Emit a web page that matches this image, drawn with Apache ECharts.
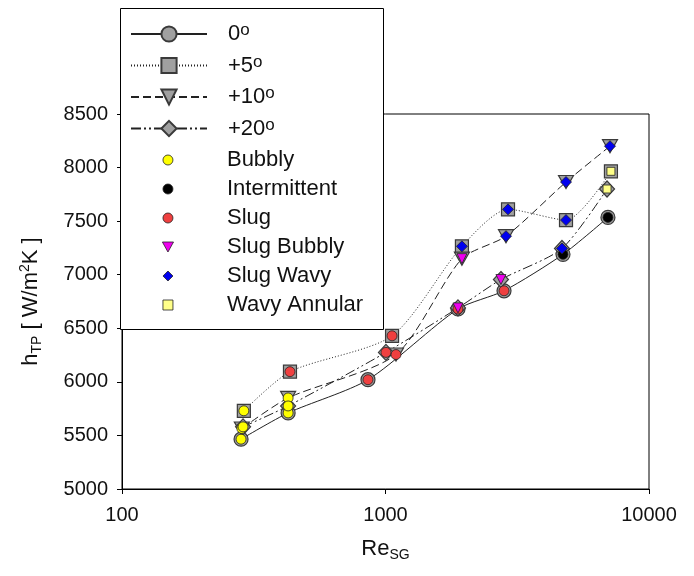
<!DOCTYPE html>
<html>
<head>
<meta charset="utf-8">
<script src="https://cdn.jsdelivr.net/npm/echarts@6/dist/echarts.min.js"></script>
<style>
html,body{margin:0;padding:0;background:#fff;}
#chart{width:694px;height:576px;}
</style>
</head>
<body>
<div id="chart"></div>
<script>
// ---- data ----
var angleNames = ['0', '+5', '+10', '+20'];
var re0  = [283, 427, 858, 1884, 2817, 4716, 6985];
var h0   = [5465, 5710, 6020, 6680, 6850, 7190, 7535];
var rg0  = ['Bubbly', 'Bubbly', 'Slug', 'Slug', 'Slug', 'Intermittent', 'Intermittent'];
var re5  = [290, 434, 1059, 1950, 2917, 4842, 7170];
var h5   = [5730, 6095, 6430, 7265, 7610, 7510, 7965];
var rg5  = ['Bubbly', 'Slug', 'Slug', 'Slug Wavy', 'Slug Wavy', 'Slug Wavy', 'Wavy Annular'];
var re10 = [285, 427, 1096, 1950, 2866, 4842, 7112];
var h10  = [5565, 5850, 6255, 7150, 7360, 7865, 8200];
var rg10 = ['Bubbly', 'Bubbly', 'Slug', 'Slug Bubbly', 'Slug Wavy', 'Slug Wavy', 'Slug Wavy'];
var re20 = [288, 427, 1004, 1884, 2742, 4675, 6930];
var h20  = [5580, 5775, 6275, 6690, 6955, 7245, 7800];
var rg20 = ['Bubbly', 'Bubbly', 'Slug', 'Slug Bubbly', 'Slug Bubbly', 'Slug Wavy', 'Wavy Annular'];
var regimes = ['Bubbly', 'Intermittent', 'Slug', 'Slug Bubbly', 'Slug Wavy', 'Wavy Annular'];
var xTicks = [100, 1000, 10000];
var yTicks = [5000, 5500, 6000, 6500, 7000, 7500, 8000, 8500];

// ---- styles ----
var angleRe = [re0, re5, re10, re20];
var angleH = [h0, h5, h10, h20];
var angleRg = [rg0, rg5, rg10, rg20];
var angleSymbol = ['circle', 'rect', 'triangle', 'diamond'];
var angleSymbolSize = [14, 13, [15, 13], [15, 16]];
var angleRotate = [0, 0, 180, 0];
var angleLine = ['solid', [1, 2], [8, 4], [10, 3, 2, 3, 2, 3]];
var regStyle = {
  'Bubbly':       {symbol: 'circle',   size: 10, color: '#ffff00', rot: 0,   icon: 'circle'},
  'Intermittent': {symbol: 'circle',   size: 10, color: '#000000', rot: 0,   icon: 'circle'},
  'Slug':         {symbol: 'circle',   size: 10, color: '#ef4040', rot: 0,   icon: 'circle'},
  'Slug Bubbly':  {symbol: 'triangle', size: 10, color: '#ee00ee', rot: 180, icon: 'path://M0,0L10,0L5,9Z'},
  'Slug Wavy':    {symbol: 'diamond',  size: 11, color: '#0000ee', rot: 0,   icon: 'path://M5,0L10,5L5,10L0,5Z'},
  'Wavy Annular': {symbol: 'rect',     size: 8,  color: '#ffff88', rot: 0,   icon: 'path://M0,0L8,0L8,8L0,8Z'}
};

var series = [];
angleNames.forEach(function (nm, i) {
  series.push({
    name: nm,
    type: 'line',
    smooth: 0.25,
    data: angleRe[i].map(function (x, k) { return [x, angleH[i][k]]; }),
    symbol: angleSymbol[i],
    symbolSize: angleSymbolSize[i],
    symbolRotate: angleRotate[i],
    showAllSymbol: true,
    lineStyle: {color: '#222', width: 1, type: angleLine[i]},
    itemStyle: {color: '#a0a0a0', borderColor: '#3a3a3a', borderWidth: 1.2},
    z: 2,
    animation: false
  });
});
var legendRegData = [];
regimes.forEach(function (rg) {
  var pts = [];
  for (var i = 0; i < angleNames.length; i++) {
    for (var k = 0; k < angleRe[i].length; k++) {
      if (angleRg[i][k] === rg) pts.push([angleRe[i][k], angleH[i][k]]);
    }
  }
  var st = regStyle[rg];
  series.push({
    name: rg,
    type: 'scatter',
    data: pts,
    symbol: st.symbol,
    symbolSize: st.size,
    symbolRotate: st.rot,
    itemStyle: {color: st.color, borderColor: '#222', borderWidth: 0.8, opacity: 1},
    z: 3,
    animation: false
  });
  legendRegData.push({name: rg, icon: st.icon, itemStyle: {color: st.color, borderColor: '#222', borderWidth: 0.8}});
});

var plainNum = function (v) { return String(v); };

var chart = echarts.init(document.getElementById('chart'), null, {renderer: 'canvas'});
chart.setOption({
  animation: false,
  backgroundColor: '#fff',
  grid: {left: 122, right: 45, top: 114, bottom: 87, show: true, borderColor: '#000', borderWidth: 1},
  xAxis: {
    type: 'log', logBase: 10, min: xTicks[0], max: xTicks[xTicks.length - 1],
    axisLine: {show: true, lineStyle: {color: '#000', width: 1}},
    axisTick: {show: true, length: 5, lineStyle: {color: '#000'}},
    minorTick: {show: false},
    splitLine: {show: false},
    axisLabel: {fontSize: 20, color: '#111', fontFamily: 'Liberation Sans', margin: 16, formatter: plainNum},
    name: 'Re{sub|SG}', nameLocation: 'middle', nameGap: 47,
    nameTextStyle: {fontSize: 22, color: '#111', fontFamily: 'Liberation Sans', lineHeight: 26,
      rich: {sub: {fontSize: 14, verticalAlign: 'bottom', lineHeight: 14, fontFamily: 'Liberation Sans', color: '#111'}}}
  },
  yAxis: {
    type: 'value', min: yTicks[0], max: yTicks[yTicks.length - 1], interval: 500,
    axisLine: {show: true, lineStyle: {color: '#000', width: 1}},
    axisTick: {show: true, length: 5, lineStyle: {color: '#000'}},
    splitLine: {show: false},
    axisLabel: {fontSize: 20, color: '#111', fontFamily: 'Liberation Sans', margin: 14, formatter: plainNum},
    name: 'h{sub|TP} [ W/m{sup|2}K ]', nameLocation: 'middle', nameGap: 78, nameRotate: 90,
    nameTextStyle: {fontSize: 22, color: '#111', fontFamily: 'Liberation Sans', lineHeight: 26,
      rich: {
        sub: {fontSize: 14, verticalAlign: 'bottom', lineHeight: 14, fontFamily: 'Liberation Sans', color: '#111'},
        sup: {fontSize: 14, verticalAlign: 'top', lineHeight: 14, fontFamily: 'Liberation Sans', color: '#111'}
      }}
  },
  graphic: [{
    type: 'rect', z: 5,
    shape: {x: 120.5, y: 8.5, width: 263, height: 321},
    style: {fill: '#fff', stroke: '#000', lineWidth: 1}
  }],
  legend: [{
    data: angleNames,
    orient: 'vertical', left: 130, top: 22, padding: 0,
    itemWidth: 76, itemHeight: 19, itemGap: 7.5,
    selectedMode: false, z: 10,
    formatter: function (n) { return n + '{sup|o}'; },
    textStyle: {fontSize: 22, color: '#111', fontFamily: 'Liberation Sans', lineHeight: 24, padding: [0, 0, 0, 16],
      rich: {sup: {fontSize: 17, verticalAlign: 'top', lineHeight: 12, fontFamily: 'Liberation Sans', color: '#111'}}}
  }, {
    data: legendRegData,
    orient: 'vertical', left: 162, top: 148, padding: 0,
    itemWidth: 76, itemHeight: 10, itemGap: 5,
    symbolKeepAspect: true,
    selectedMode: false, z: 10,
    textStyle: {fontSize: 22, color: '#111', fontFamily: 'Liberation Sans', lineHeight: 24, padding: [0, 0, 0, 16]}
  }],
  series: series
});
</script>
</body>
</html>
